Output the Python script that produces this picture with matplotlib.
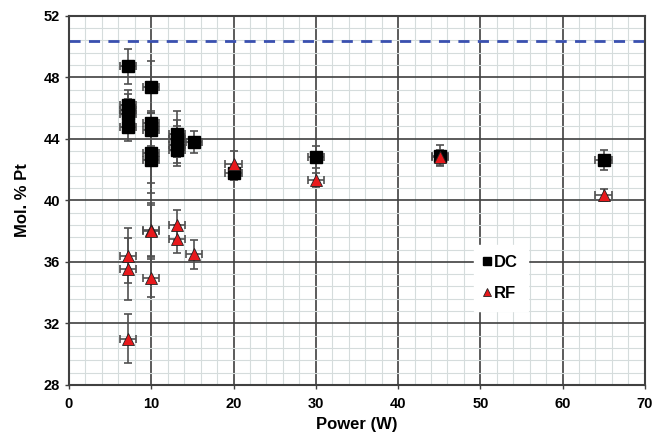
import matplotlib.pyplot as plt
from matplotlib.ticker import MultipleLocator

# DC sputtered films
dc_power = [7.2, 7.2, 7.2, 7.2, 7.2, 10, 10, 10, 10, 10, 13.1, 13.1, 13.1, 13.1, 15.2, 20, 30, 45.1, 65]
dc_pt = [48.7, 46.2, 45.9, 45.6, 44.75, 47.35, 45.0, 44.6, 43.1, 42.6, 44.3, 44.0, 43.6, 43.3, 43.8, 41.8, 42.8, 42.9, 42.6]
dc_err = [1.15, 1.0, 1.0, 1.0, 0.9, 1.7, 0.8, 1.1, 2.0, 2.1, 1.5, 1.2, 1.2, 1.1, 0.7, 0.5, 0.7, 0.7, 0.65]

# RF sputtered films
rf_power = [7.2, 7.2, 7.2, 10, 10, 10, 13.1, 13.1, 15.2, 20, 30, 45.1, 65]
rf_pt = [36.4, 35.55, 31.0, 38.1, 38.0, 34.95, 38.4, 37.5, 36.5, 42.35, 41.3, 42.8, 40.35]
rf_err = [1.8, 2.0, 1.6, 1.7, 1.7, 1.25, 1.0, 0.9, 0.95, 0.85, 0.45, 0.5, 0.4]

power_err = 1.0
target_pt = 50.35

plt.rcParams['font.family'] = ['Liberation Sans', 'DejaVu Sans']
plt.rcParams['font.weight'] = 'bold'

fig = plt.figure(figsize=(6.54, 4.43), dpi=100)
ax = fig.add_axes([0.1055, 0.131, 0.8805, 0.8336])

ax.set_xlim(0, 70)
ax.set_ylim(28, 52)
ax.xaxis.set_major_locator(MultipleLocator(10))
ax.xaxis.set_minor_locator(MultipleLocator(2))
ax.yaxis.set_major_locator(MultipleLocator(4))
ax.yaxis.set_minor_locator(MultipleLocator(0.8))

ax.grid(which='minor', color='#d5dcdc', lw=0.8, zorder=0)
ax.grid(which='major', color='#404040', lw=1.2, zorder=0.5)
ax.set_axisbelow(True)

ax.axhline(target_pt, color='#3a50b0', lw=2, ls=(0, (4, 3)), zorder=1)

ax.errorbar(dc_power, dc_pt, yerr=dc_err, xerr=power_err, fmt='none',
            ecolor='#505050', elinewidth=1.2, capsize=3, capthick=1.2, zorder=2)
ax.errorbar(rf_power, rf_pt, yerr=rf_err, xerr=power_err, fmt='none',
            ecolor='#505050', elinewidth=1.2, capsize=3, capthick=1.2, zorder=2)

ax.plot(dc_power, dc_pt, ls='none', marker='s', ms=8, mfc='black', mec='black',
        mew=1.0, zorder=3, label='DC')
ax.plot(rf_power, rf_pt, ls='none', marker='^', ms=9, mfc='#e8191c', mec='#222222',
        mew=0.6, zorder=4, label='RF')

leg = ax.legend(loc='center', bbox_to_anchor=(0.75, 0.29), frameon=True,
                handlelength=0.4, handletextpad=0.25, markerscale=0.65,
                labelspacing=1.0, borderpad=0.6, fontsize=12)
leg.get_frame().set_edgecolor('white')
leg.get_frame().set_facecolor('white')
leg.get_frame().set_alpha(1)
leg.get_frame().set_boxstyle('square', pad=0)

for s in ax.spines.values():
    s.set_color('#404040')
    s.set_linewidth(1.5)

ax.tick_params(which='major', length=3, width=1, color='#404040', labelsize=10.5)
ax.tick_params(axis='x', which='major', pad=6)
ax.tick_params(which='minor', length=0)
for lab in ax.get_xticklabels() + ax.get_yticklabels():
    lab.set_fontweight('bold')

ax.set_xlabel('Power (W)', fontsize=12, fontweight='bold', labelpad=4)
ax.set_ylabel('Mol. % Pt', fontsize=12, fontweight='bold', labelpad=10)

fig.savefig('out.png', dpi=100)
